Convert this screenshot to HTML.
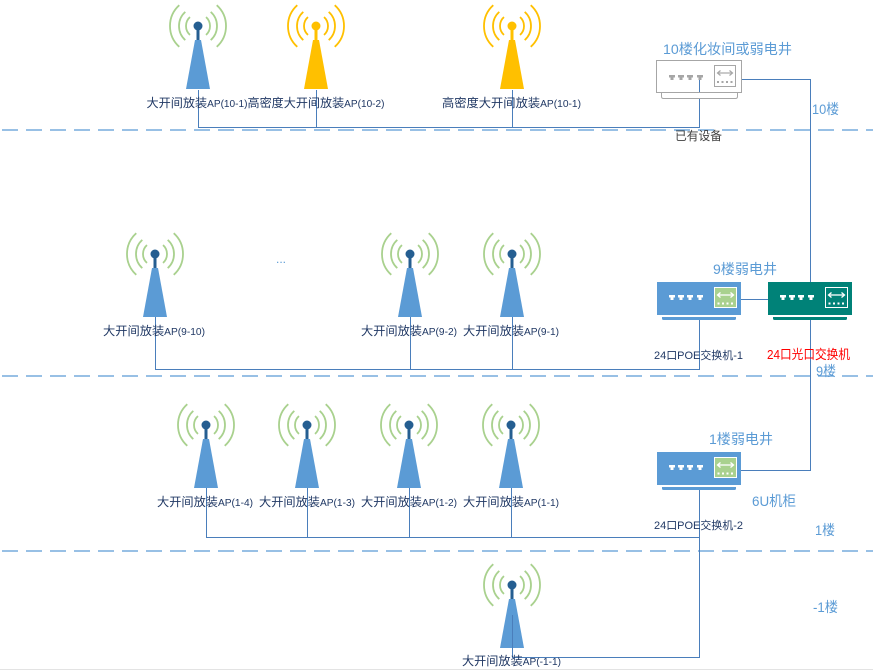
<!DOCTYPE html>
<html>
<head>
<meta charset="utf-8">
<style>
html,body{margin:0;padding:0;background:#fff;}
svg{display:block;}
text{font-family:"Liberation Sans","Noto Sans CJK SC",sans-serif;}
</style>
</head>
<body>
<svg width="873" height="670" viewBox="0 0 873 670" xmlns="http://www.w3.org/2000/svg">
<defs>
  <g id="apb">
    <g fill="none" stroke="#a9d18e" stroke-width="1.8">
      <path d="M8.03,-8.92 A12,12 0 0 1 8.03,8.92"/>
      <path d="M-8.03,-8.92 A12,12 0 0 0 -8.03,8.92"/>
      <path d="M12.71,-14.12 A19,19 0 0 1 12.71,14.12"/>
      <path d="M-12.71,-14.12 A19,19 0 0 0 -12.71,14.12"/>
      <path d="M18.74,-20.81 A28,28 0 0 1 18.74,20.81"/>
      <path d="M-18.74,-20.81 A28,28 0 0 0 -18.74,20.81"/>
    </g>
    <rect x="-1.5" y="0" width="3" height="15" fill="#255e91"/>
    <circle cx="0" cy="0" r="4.5" fill="#255e91"/>
    <polygon points="-3,14 3,14 12,63 -12,63" fill="#5b9bd5"/>
  </g>
  <g id="apy">
    <g fill="none" stroke="#ffc000" stroke-width="1.8">
      <path d="M8.03,-8.92 A12,12 0 0 1 8.03,8.92"/>
      <path d="M-8.03,-8.92 A12,12 0 0 0 -8.03,8.92"/>
      <path d="M12.71,-14.12 A19,19 0 0 1 12.71,14.12"/>
      <path d="M-12.71,-14.12 A19,19 0 0 0 -12.71,14.12"/>
      <path d="M18.74,-20.81 A28,28 0 0 1 18.74,20.81"/>
      <path d="M-18.74,-20.81 A28,28 0 0 0 -18.74,20.81"/>
    </g>
    <rect x="-1.5" y="0" width="3" height="15" fill="#ffc000"/>
    <circle cx="0" cy="0" r="4.5" fill="#ffc000"/>
    <polygon points="-3,14 3,14 12,63 -12,63" fill="#ffc000"/>
  </g>
  <g id="swinner">
    <g fill="#ffffff">
      <path d="M669,295 H675 V297.5 H673.5 V300 H670.5 V297.5 H669 Z"/>
      <path d="M678,295 H684 V297.5 H682.5 V300 H679.5 V297.5 H678 Z"/>
      <path d="M687,295 H693 V297.5 H691.5 V300 H688.5 V297.5 H687 Z"/>
      <path d="M697,295 H703 V297.5 H701.5 V300 H698.5 V297.5 H697 Z"/>
    </g>
  </g>
</defs>

<!-- dashed floor lines -->
<g stroke="#5b9bd5" stroke-width="1.3" stroke-dasharray="16 8">
  <line x1="2" y1="130" x2="873" y2="130"/>
  <line x1="2" y1="376" x2="873" y2="376"/>
  <line x1="2" y1="551" x2="873" y2="551"/>
</g>
<line x1="0" y1="669.5" x2="873" y2="669.5" stroke="#e3e3e3" stroke-width="1"/>

<!-- connectors -->
<g stroke="#4a7ebb" stroke-width="1" fill="none">
  <path d="M198.5,90 V127.5 H699.5 V78"/>
  <path d="M316.5,90 V127.5"/>
  <path d="M512.5,90 V127.5"/>
  <path d="M742,79.5 H810.5 V282"/>
  <path d="M155.5,317 V369.5 H699.5 V319"/>
  <path d="M410.5,317 V369.5"/>
  <path d="M512.5,317 V369.5"/>
  <path d="M741,299.5 H768"/>
  <path d="M810.5,319 V470.5 H741"/>
  <path d="M206.5,488 V537.5 H699.5"/>
  <path d="M307.5,488 V537.5"/>
  <path d="M409.5,488 V537.5"/>
  <path d="M511.5,488 V537.5"/>
  <path d="M699.5,489 V657.5 H512.5 V615"/>
</g>

<use href="#apb" x="198" y="26"/>
<use href="#apy" x="316" y="26"/>
<use href="#apy" x="512" y="26"/>
<use href="#apb" x="155" y="254"/>
<use href="#apb" x="410" y="254"/>
<use href="#apb" x="512" y="254"/>
<use href="#apb" x="206" y="425"/>
<use href="#apb" x="307" y="425"/>
<use href="#apb" x="409" y="425"/>
<use href="#apb" x="511" y="425"/>
<use href="#apb" x="512" y="585"/>
<line x1="512.5" y1="615" x2="512.5" y2="649" stroke="#4a7ebb" stroke-width="1"/>

<!-- 10F switch -->
<g>
  <path d="M661.5,92.5 V96.5 Q661.5,98.5 663.5,98.5 H735.5 Q737.5,98.5 737.5,96.5 V92.5" fill="#fff" stroke="#a6a6a6" stroke-width="1"/>
  <rect x="656.5" y="60.5" width="85" height="32" fill="#fff" stroke="#a6a6a6" stroke-width="1"/>
  <g fill="#a6a6a6">
    <path d="M669,75 H675 V77.5 H673.5 V80 H670.5 V77.5 H669 Z"/>
    <path d="M678,75 H684 V77.5 H682.5 V80 H679.5 V77.5 H678 Z"/>
    <path d="M687,75 H693 V77.5 H691.5 V80 H688.5 V77.5 H687 Z"/>
    <path d="M697,75 H703 V77.5 H701.5 V80 H698.5 V77.5 H697 Z"/>
  </g>
  <rect x="714.5" y="65.5" width="21" height="21" fill="#fff" stroke="#a6a6a6" stroke-width="1"/>
  <g stroke="#a6a6a6" stroke-width="1.2" fill="none">
    <line x1="718" y1="73" x2="732" y2="73"/>
    <path d="M720.5,70.5 L717.5,73 L720.5,75.5"/>
    <path d="M729.5,70.5 L732.5,73 L729.5,75.5"/>
  </g>
  <g fill="#a6a6a6">
    <rect x="717" y="81" width="2" height="2"/>
    <rect x="721.5" y="81" width="2" height="2"/>
    <rect x="726" y="81" width="2" height="2"/>
    <rect x="730.5" y="81" width="2" height="2"/>
  </g>
  <line x1="699.5" y1="80" x2="699.5" y2="92" stroke="#4a7ebb" stroke-width="1"/>
</g>

<!-- 9F POE switch -->
<g>
  <rect x="657" y="282" width="84" height="33" fill="#5b9bd5"/>
  <path d="M662,317 H736 V318.5 Q736,320 734.5,320 H663.5 Q662,320 662,318.5 Z" fill="#5b9bd5"/>
  <use href="#swinner"/>
  <rect x="714.5" y="287.5" width="22" height="20" fill="#a9d18e" stroke="#fff" stroke-width="1"/>
  <g stroke="#fff" stroke-width="1.3" fill="none">
    <line x1="718" y1="295" x2="733" y2="295"/>
    <path d="M720.5,292.5 L717.5,295 L720.5,297.5"/>
    <path d="M730.5,292.5 L733.5,295 L730.5,297.5"/>
  </g>
  <g fill="#fff">
    <rect x="717.5" y="302.5" width="2" height="2"/>
    <rect x="722" y="302.5" width="2" height="2"/>
    <rect x="726.5" y="302.5" width="2" height="2"/>
    <rect x="731" y="302.5" width="2" height="2"/>
  </g>
</g>

<!-- 9F optical switch -->
<g transform="translate(111,0)">
  <rect x="657" y="282" width="84" height="33" fill="#008278"/>
  <path d="M662,317 H736 V318.5 Q736,320 734.5,320 H663.5 Q662,320 662,318.5 Z" fill="#008278"/>
  <use href="#swinner"/>
  <rect x="714.5" y="287.5" width="22" height="20" fill="#008278" stroke="#fff" stroke-width="1"/>
  <g stroke="#fff" stroke-width="1.3" fill="none">
    <line x1="718" y1="295" x2="733" y2="295"/>
    <path d="M720.5,292.5 L717.5,295 L720.5,297.5"/>
    <path d="M730.5,292.5 L733.5,295 L730.5,297.5"/>
  </g>
  <g fill="#fff">
    <rect x="717.5" y="302.5" width="2" height="2"/>
    <rect x="722" y="302.5" width="2" height="2"/>
    <rect x="726.5" y="302.5" width="2" height="2"/>
    <rect x="731" y="302.5" width="2" height="2"/>
  </g>
</g>

<!-- 1F POE switch -->
<g transform="translate(0,170)">
  <rect x="657" y="282" width="84" height="33" fill="#5b9bd5"/>
  <path d="M662,317 H736 V318.5 Q736,320 734.5,320 H663.5 Q662,320 662,318.5 Z" fill="#5b9bd5"/>
  <use href="#swinner"/>
  <rect x="714.5" y="287.5" width="22" height="20" fill="#a9d18e" stroke="#fff" stroke-width="1"/>
  <g stroke="#fff" stroke-width="1.3" fill="none">
    <line x1="718" y1="295" x2="733" y2="295"/>
    <path d="M720.5,292.5 L717.5,295 L720.5,297.5"/>
    <path d="M730.5,292.5 L733.5,295 L730.5,297.5"/>
  </g>
  <g fill="#fff">
    <rect x="717.5" y="302.5" width="2" height="2"/>
    <rect x="722" y="302.5" width="2" height="2"/>
    <rect x="726.5" y="302.5" width="2" height="2"/>
    <rect x="731" y="302.5" width="2" height="2"/>
  </g>
</g>

<!-- AP labels -->
<g fill="#203864" font-size="12" text-anchor="middle">
  <text x="197" y="107" textLength="101" lengthAdjust="spacingAndGlyphs">大开间放装<tspan font-size="10">AP(10-1)</tspan></text>
  <text x="316" y="107" textLength="137" lengthAdjust="spacingAndGlyphs">高密度大开间放装<tspan font-size="10">AP(10-2)</tspan></text>
  <text x="511.5" y="107" textLength="139" lengthAdjust="spacingAndGlyphs">高密度大开间放装<tspan font-size="10">AP(10-1)</tspan></text>
  <text x="154" y="335" textLength="102" lengthAdjust="spacingAndGlyphs">大开间放装<tspan font-size="10">AP(9-10)</tspan></text>
  <text x="409" y="335" textLength="96" lengthAdjust="spacingAndGlyphs">大开间放装<tspan font-size="10">AP(9-2)</tspan></text>
  <text x="511" y="335" textLength="96" lengthAdjust="spacingAndGlyphs">大开间放装<tspan font-size="10">AP(9-1)</tspan></text>
  <text x="205" y="506" textLength="96" lengthAdjust="spacingAndGlyphs">大开间放装<tspan font-size="10">AP(1-4)</tspan></text>
  <text x="307" y="506" textLength="96" lengthAdjust="spacingAndGlyphs">大开间放装<tspan font-size="10">AP(1-3)</tspan></text>
  <text x="409" y="506" textLength="96" lengthAdjust="spacingAndGlyphs">大开间放装<tspan font-size="10">AP(1-2)</tspan></text>
  <text x="511" y="506" textLength="96" lengthAdjust="spacingAndGlyphs">大开间放装<tspan font-size="10">AP(1-1)</tspan></text>
  <text x="511.5" y="665" textLength="99" lengthAdjust="spacingAndGlyphs">大开间放装<tspan font-size="10">AP(-1-1)</tspan></text>
</g>

<text x="276" y="263" fill="#5b9bd5" font-size="12">...</text>

<g fill="#5b9bd5" font-size="14">
  <text x="663" y="54" textLength="129" lengthAdjust="spacingAndGlyphs">10楼化妆间或弱电井</text>
  <text x="812" y="114" textLength="27" lengthAdjust="spacingAndGlyphs">10楼</text>
  <text x="713" y="274" textLength="64" lengthAdjust="spacingAndGlyphs">9楼弱电井</text>
  <text x="816" y="376" textLength="20" lengthAdjust="spacingAndGlyphs">9楼</text>
  <text x="709" y="444" textLength="64" lengthAdjust="spacingAndGlyphs">1楼弱电井</text>
  <text x="752" y="506" textLength="44" lengthAdjust="spacingAndGlyphs">6U机柜</text>
  <text x="815" y="535" textLength="20" lengthAdjust="spacingAndGlyphs">1楼</text>
  <text x="813" y="612" textLength="25" lengthAdjust="spacingAndGlyphs">-1楼</text>
</g>

<text x="675" y="140" fill="#404040" font-size="12" textLength="47" lengthAdjust="spacingAndGlyphs">已有设备</text>
<text x="654" y="359" fill="#203864" font-size="11" textLength="89" lengthAdjust="spacingAndGlyphs">24口POE交换机-1</text>
<text x="767" y="359" fill="#ff0000" font-size="13" textLength="83" lengthAdjust="spacingAndGlyphs">24口光口交换机</text>
<text x="654" y="529" fill="#203864" font-size="11" textLength="89" lengthAdjust="spacingAndGlyphs">24口POE交换机-2</text>
</svg>
</body>
</html>
